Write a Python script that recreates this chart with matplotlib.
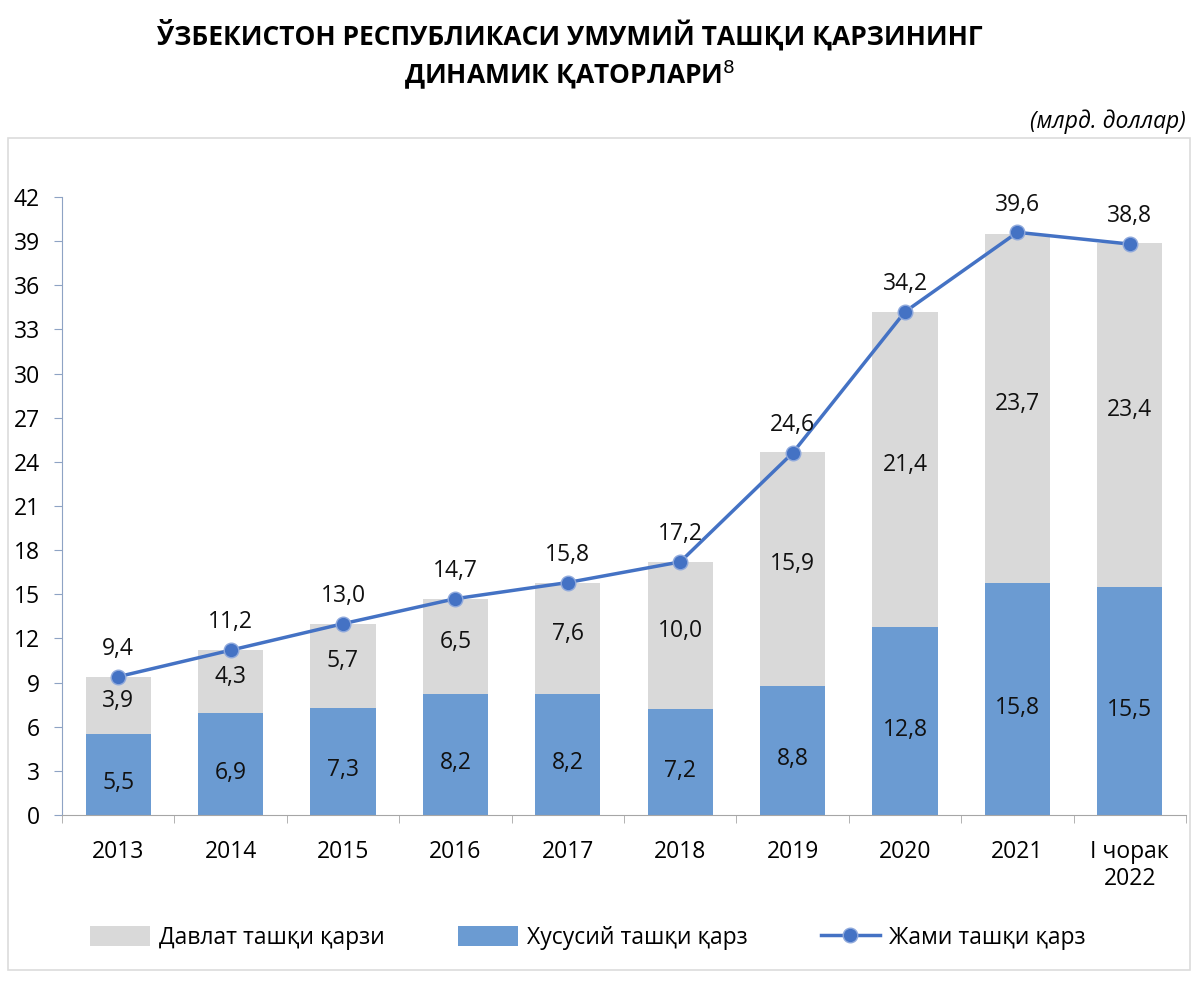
import numpy as np
import matplotlib
matplotlib.use('Agg')
from matplotlib import pyplot as plt
from matplotlib.patches import Rectangle

plt.rcParams['font.family'] = ['Open Sans', 'DejaVu Sans']

# Data (billion USD)
categories = ['2013', '2014', '2015', '2016', '2017', '2018', '2019', '2020', '2021', 'I чорак\n2022']
private_debt = [5.5, 6.9, 7.3, 8.2, 8.2, 7.2, 8.8, 12.8, 15.8, 15.5]
state_debt = [3.9, 4.3, 5.7, 6.5, 7.6, 10.0, 15.9, 21.4, 23.7, 23.4]
total_debt = [9.4, 11.2, 13.0, 14.7, 15.8, 17.2, 24.6, 34.2, 39.6, 38.8]

def fmt(v):
    return ('%.1f' % v).replace('.', ',')

fig = plt.figure(figsize=(12, 9.81), dpi=100)

# outer chart frame
fig.patches.append(Rectangle((8/1200, 1-970/981), 1182/1200, 832/981, transform=fig.transFigure,
                             fill=False, edgecolor='#dcdcdc', linewidth=1.2))

ax = fig.add_axes([62/1200, 1-815/981, 1124/1200, 618/981])

x = np.arange(len(categories))
blue = '#6b9bd2'
grey = '#d9d9d9'
line_c = '#4472c4'

bar_p = ax.bar(x, private_debt, width=0.58, color=blue, zorder=2)
bar_s = ax.bar(x, state_debt, width=0.58, bottom=private_debt, color=grey, zorder=2)
ln, = ax.plot(x, total_debt, color=line_c, linewidth=2.5, marker='o', markersize=10.5,
              markerfacecolor=line_c, markeredgecolor='#8fa9dc', markeredgewidth=1, zorder=3)

fs = 16.5
for i in range(len(categories)):
    ax.text(x[i], private_debt[i]/2 - 0.6, fmt(private_debt[i]), ha='center', va='center',
            fontsize=fs, color='#111111', zorder=4)
    ax.text(x[i], private_debt[i] + state_debt[i]/2 + 0.3, fmt(state_debt[i]), ha='center', va='center',
            fontsize=fs, color='#111111', zorder=4)
    ax.annotate(fmt(total_debt[i]), (x[i], total_debt[i]), xytext=(0, 20), textcoords='offset points',
                ha='center', va='center', fontsize=fs, color='#111111', zorder=4)

ax.set_xlim(-0.5, len(categories) - 0.5)
ax.set_ylim(0, 42)
ax.set_yticks(np.arange(0, 43, 3))
ax.tick_params(axis='y', labelsize=fs, length=6, color='#8ea3c4', pad=10)
ax.set_xticks(x)
ax.set_xticklabels(categories, fontsize=fs, linespacing=1.15)
ax.set_xticks(np.arange(-0.5, len(categories), 1), minor=True)
ax.tick_params(axis='x', which='major', length=0, pad=18)
ax.tick_params(axis='x', which='minor', length=6, color='#a6a6a6')
for s in ['top', 'right']:
    ax.spines[s].set_visible(False)
ax.spines['left'].set_color('#8ea3c4')
ax.spines['bottom'].set_color('#a6a6a6')

fig.legend([bar_s, bar_p, ln], ['Давлат ташқи қарзи', 'Хусусий ташқи қарз', 'Жами ташқи қарз'], loc='center',
           bbox_to_anchor=(0.49, 1-938/981), ncol=3, frameon=False, fontsize=fs,
           columnspacing=3.2, handlelength=2.6, handleheight=1.0, handletextpad=0.4)

fig.text(570/1200, 1-35/981, 'ЎЗБЕКИСТОН РЕСПУБЛИКАСИ УМУМИЙ ТАШҚИ ҚАРЗИНИНГ', ha='center', va='center',
         fontsize=19, fontweight='bold')
fig.text(570/1200, 1-75/981, 'ДИНАМИК ҚАТОРЛАРИ$^{8}$', ha='center', va='center',
         fontsize=19, fontweight='bold')
fig.text(1186/1200, 1-122/981, '(млрд. доллар)', ha='right', va='center', fontsize=fs, style='italic')

fig.savefig('out.png', dpi=100)
